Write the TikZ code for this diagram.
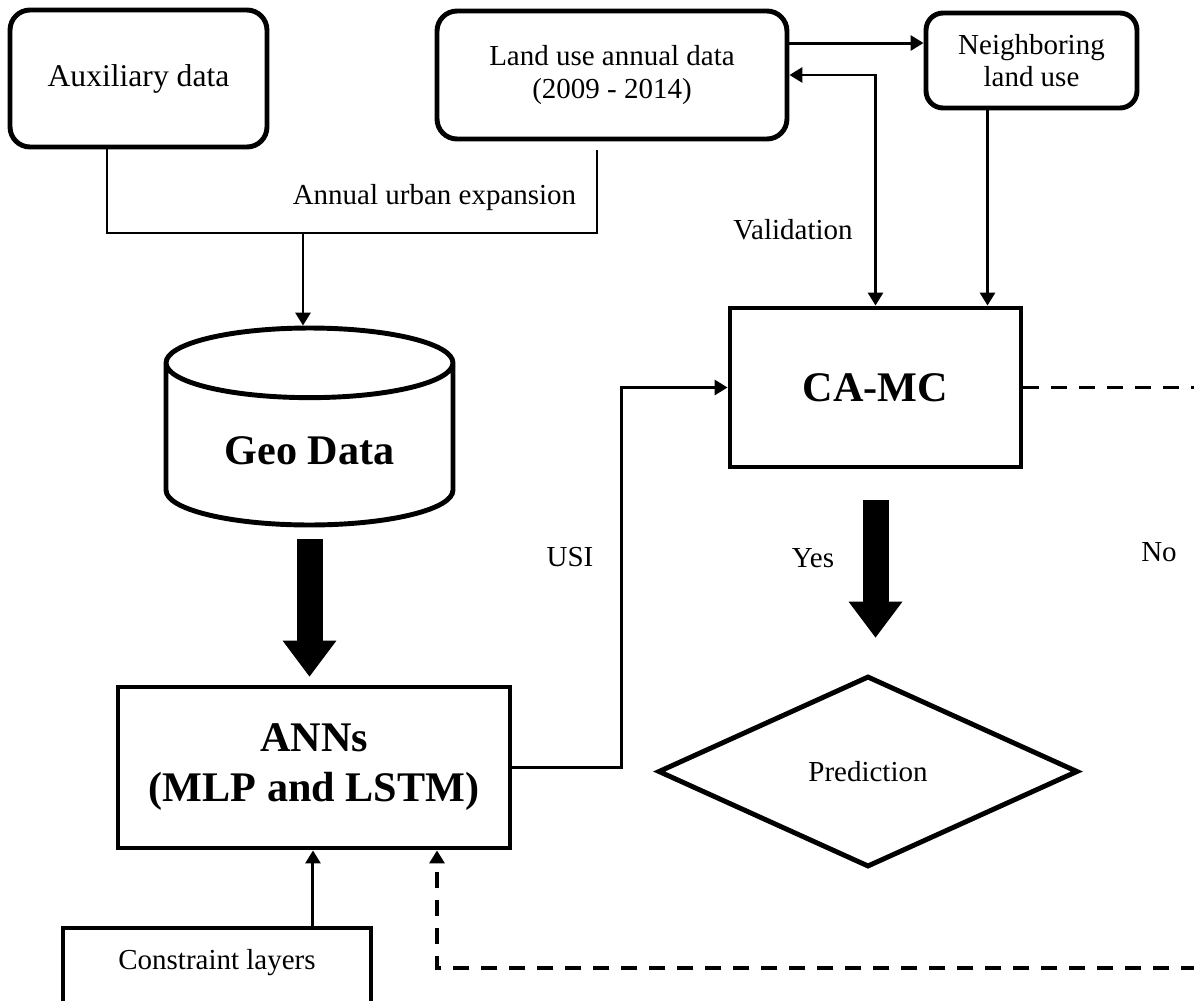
\documentclass[tikz,border=0pt]{standalone}
\usepackage{fontspec}
\setmainfont{Liberation Serif}
\usetikzlibrary{arrows.meta,shapes.geometric,positioning}
\newcommand{\regfont}{\fontsize{16.5}{18.4}\selectfont}
\newcommand{\auxfont}{\fontsize{18}{20}\selectfont}
\newcommand{\bigfont}{\fontsize{24}{28.5}\selectfont\bfseries}

\begin{document}
\begin{tikzpicture}[x=0.02cm, y=-0.02cm,
    rbox/.style={draw, line width=2.8pt, rounded corners=0.4cm, align=center, font=\regfont, inner sep=0pt},
    sbox/.style={draw, line width=2.8pt, align=center, inner sep=0pt},
    conn/.style={line width=1.7pt, -{Triangle[length=0.26cm, width=0.3cm]}},
    dconn/.style={line width=1.7pt, {Triangle[length=0.26cm, width=0.3cm]}-{Triangle[length=0.26cm, width=0.3cm]}},
    bigarrow/.style={line width=0.52cm, -{Triangle[length=0.72cm, width=1.08cm, line width=0pt]}},
    feedback/.style={line width=2.2pt, dash pattern=on 0.32cm off 0.24cm, -{Triangle[length=0.26cm, width=0.3cm]}},
    lbl/.style={font=\regfont, inner sep=0pt}]
  \useasboundingbox (0,0) rectangle (1194,1001);
  \clip (0,0) rectangle (1194,1001);

  \node[rbox, font=\auxfont, minimum width=5.14cm, minimum height=2.74cm] (aux) at (138.5,78.5) {Auxiliary data};
  \node[rbox, minimum width=7cm, minimum height=2.56cm] (land) at (612,75) {Land use annual data\\(2009 - 2014)};
  \node[rbox, rounded corners=0.34cm, minimum width=4.22cm, minimum height=1.9cm] (neigh) at (1031.5,60.5) {Neighboring\\land use};
  \node[draw, cylinder, shape border rotate=90, aspect=0.41, line width=2.8pt, inner sep=0pt, anchor=shape center,
        minimum width=5.74cm, minimum height=3.94cm, font=\bigfont] (geo) at (309.5,426.5)
        {\raisebox{-0.38cm}[0pt][0pt]{Geo Data}};
  \node[sbox, font=\bigfont, minimum width=5.82cm, minimum height=3.18cm] (camc) at (875.5,387.5) {CA-MC};
  \node[sbox, font=\bigfont, minimum width=7.84cm, minimum height=3.22cm] (anns) at (314,767.5) {ANNs\\(MLP and LSTM)};
  \node[draw, diamond, line width=2.8pt, inner sep=0pt, font=\regfont,
        minimum width=8.4cm, minimum height=3.82cm] (pred) at (868,771.5) {Prediction};
  \node[sbox, font=\regfont, text height=0pt, text depth=0pt,
        minimum width=6.16cm, minimum height=1.64cm] (cons) at (217,969) {Constraint layers};

  \coordinate (jl) at (107,233);
  \coordinate (jm) at (303,233);
  \coordinate (jr) at (597,233);
  \coordinate (fbTop) at (1240,387.5);
  \coordinate (fbBot) at (1240,968);
  \coordinate (fbIn) at (437,968);

  \draw[line width=1.7pt] (aux.south -| jl) -- (jl) -- (jr) -- ([yshift=-0.18cm]land.south -| jr);
  \draw[conn] (jm) -- (jm |- geo.north);
  \draw[conn] ([yshift=0.64cm]land.east) -- ([yshift=0.64cm]land.east -| neigh.west);
  \draw[dconn] (land.east) -| (camc.north);
  \draw[conn] ([xshift=-0.88cm]neigh.south) -- ([xshift=-0.88cm]neigh.south |- camc.north);
  \draw[bigarrow, shorten <=0.24cm, shorten >=0.16cm] (geo.south) -- (geo.south |- anns.north);
  \draw[conn] (anns.east) -- ++(109,0) |- (camc.west);
  \draw[bigarrow, shorten <=0.62cm, shorten >=0.72cm] (camc.south) -- (camc.south |- pred.north);
  \draw[conn] ([xshift=1.92cm]cons.north) -- ([xshift=1.92cm]cons.north |- anns.south);
  \draw[feedback] (camc.east) -- (fbTop) -- (fbBot) -- (fbIn) -- (fbIn |- anns.south);

  \node[lbl] (expLbl) at (434.5,198) {Annual urban expansion};
  \node[lbl] (valLbl) at (793,230) {Validation};
  \node[lbl] (usiLbl) at (570,557) {USI};
  \node[lbl] (yesLbl) at (813,558) {Yes};
  \node[lbl] (noLbl) at (1159,552) {No};
\end{tikzpicture}
\end{document}
